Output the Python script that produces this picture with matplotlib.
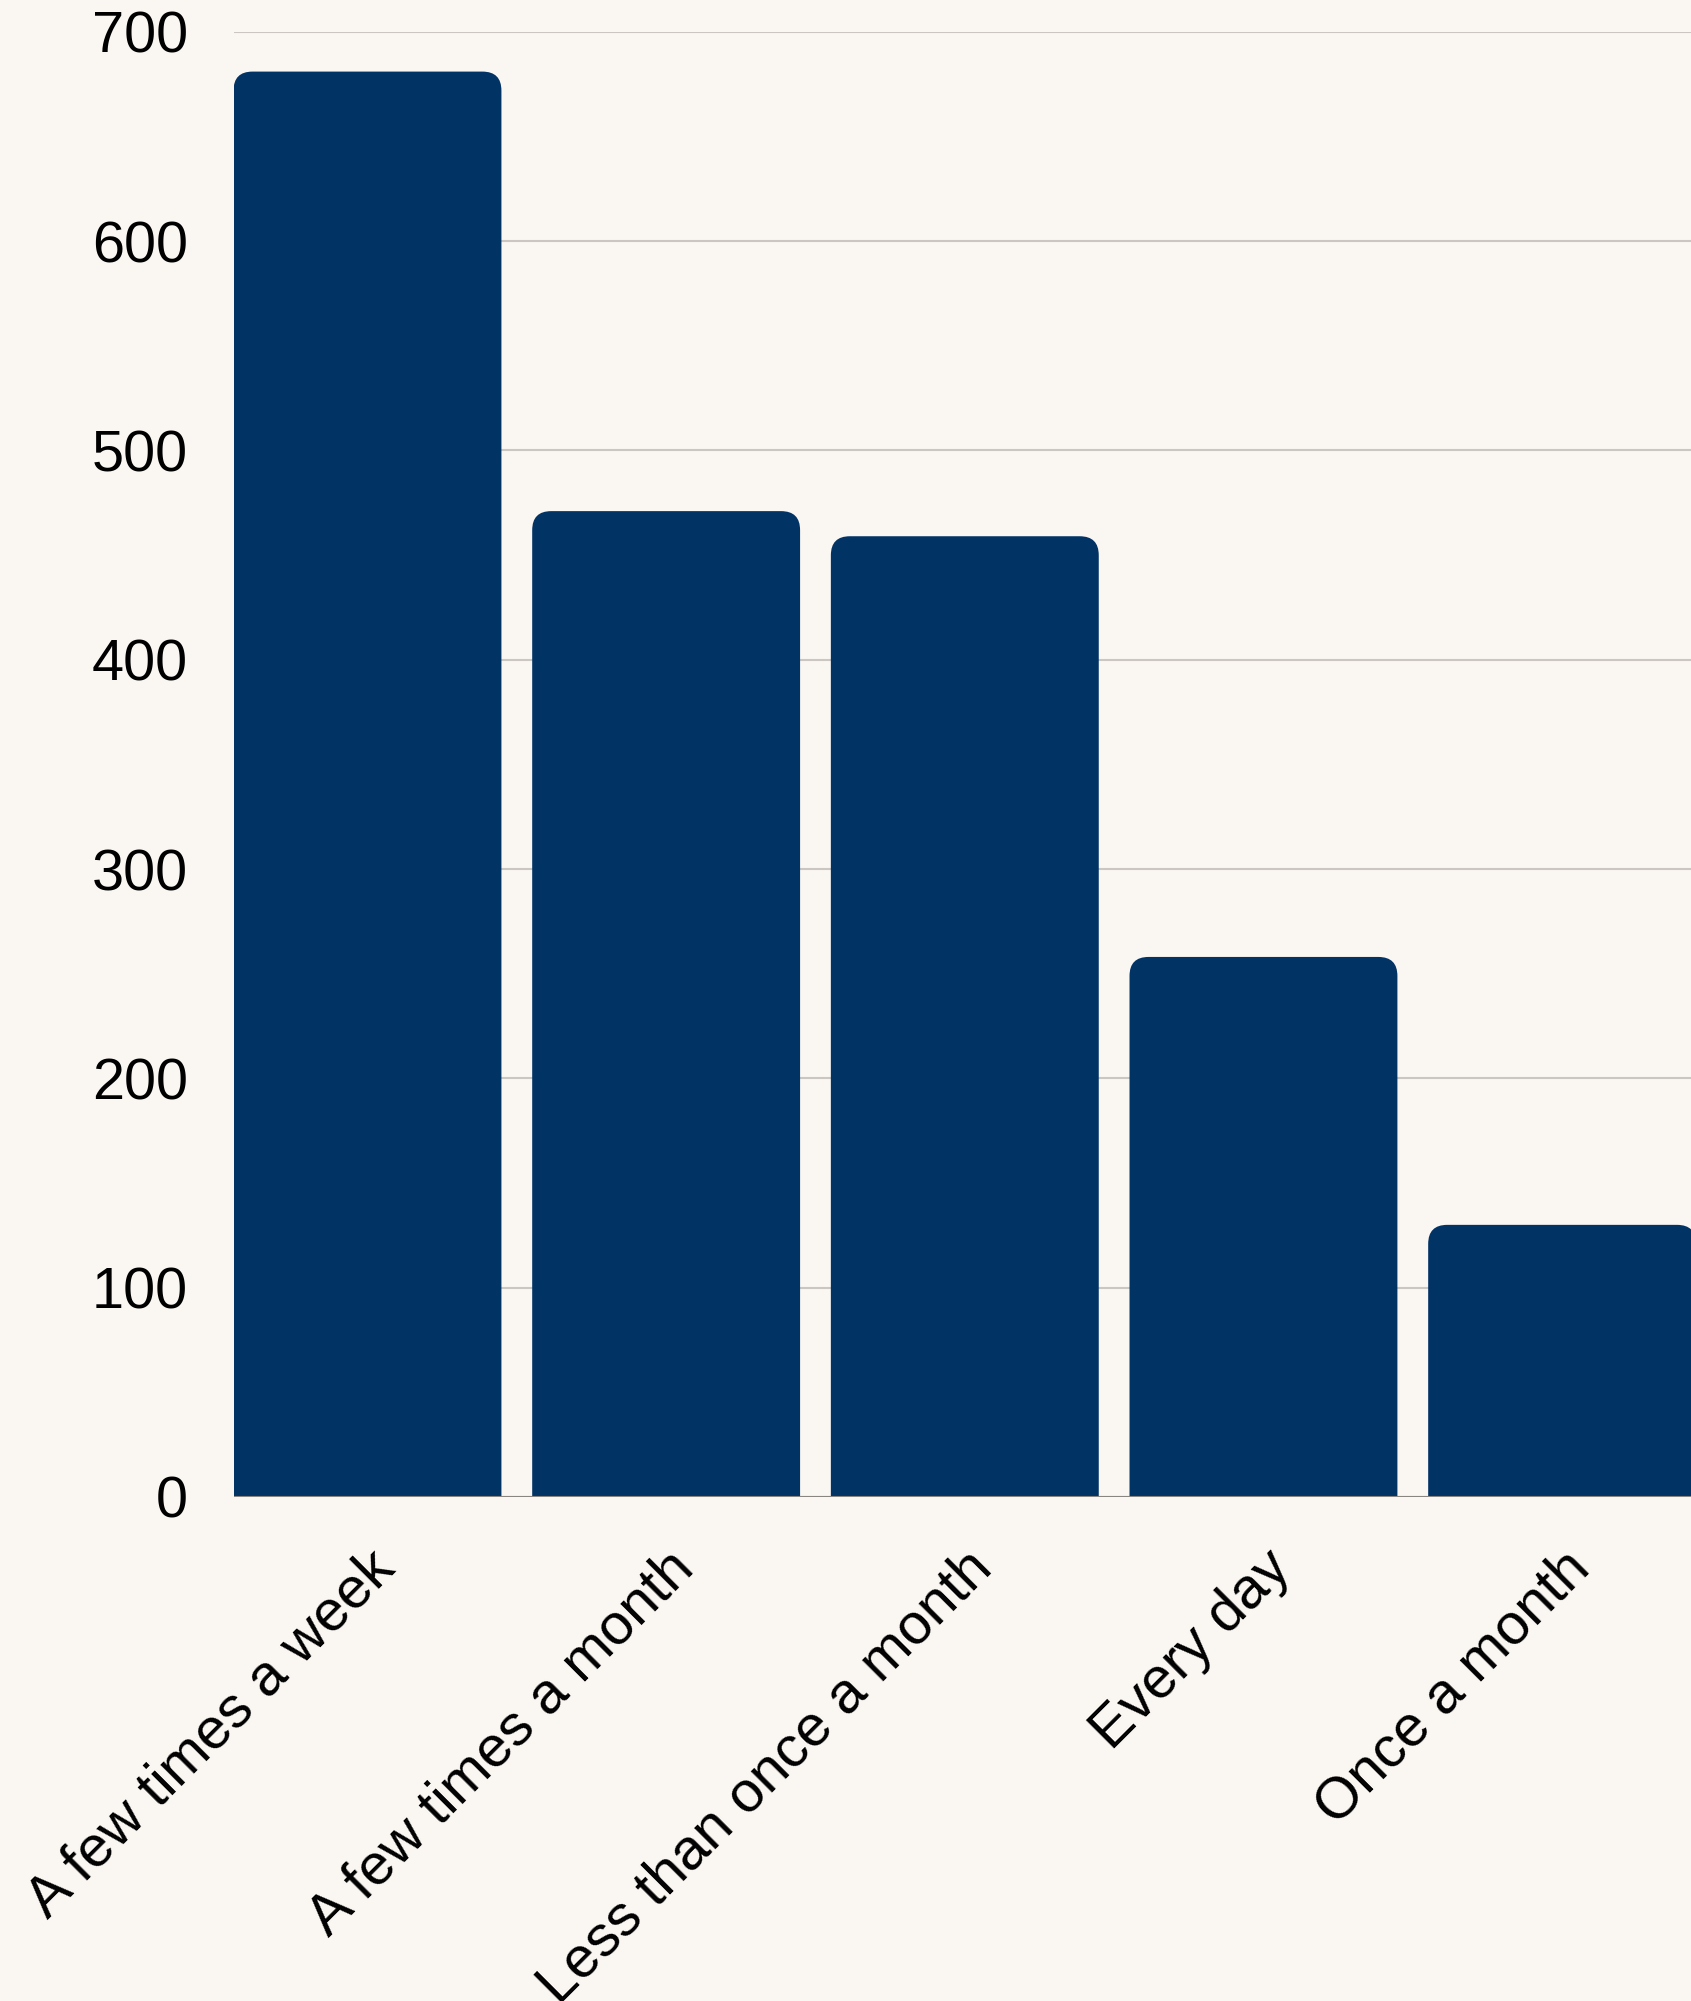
import numpy as np
import matplotlib
matplotlib.use("Agg")
import matplotlib.pyplot as plt
import matplotlib.transforms as mtransforms
from matplotlib.patches import FancyBboxPatch

# survey answers: how often
categories = ["A few times a week", "A few times a month", "Less than once a month",
              "Every day", "Once a month"]
counts = [681, 471, 459, 258, 130]
yticks = [0, 100, 200, 300, 400, 500, 600, 700]

BG = "#faf6f2"
BAR = "#023365"
GRID = "#cbc6c1"

plt.rcParams['font.family'] = ['Liberation Sans', 'DejaVu Sans']

fig = plt.figure(figsize=(16.91, 20.01), dpi=100, facecolor=BG)
ax = fig.add_axes([0.1381, 0.2519, 0.8619, 0.7322])
ax.set_facecolor(BG)

width = 0.897
x = np.arange(len(categories))
ax.set_xlim(-width / 2, -width / 2 + 4.88)
ax.set_ylim(0, 700)

# rounded tops: radius in pixels converted to data units on each axis
fig.canvas.draw()
bb = ax.get_window_extent()
px_x = (ax.get_xlim()[1] - ax.get_xlim()[0]) / bb.width
px_y = (ax.get_ylim()[1] - ax.get_ylim()[0]) / bb.height
r_px = 19
r_x = r_px * px_x
aspect = px_y / px_x

for xi, v in zip(x, counts):
    p = FancyBboxPatch((xi - width / 2, -3 * r_px * px_y), width, v + 3 * r_px * px_y,
                       boxstyle=f"round,pad=0,rounding_size={r_x}",
                       mutation_aspect=aspect, facecolor=BAR, edgecolor="none",
                       zorder=3)
    ax.add_patch(p)

ax.set_yticks(yticks)
ax.yaxis.grid(True, color=GRID, linewidth=1.5, zorder=0)
ax.set_axisbelow(True)
ax.axhline(0, color="#8a8580", linewidth=1.5, zorder=4)

for s in ax.spines.values():
    s.set_visible(False)

ax.tick_params(axis="y", length=0, pad=33, labelsize=41.5, labelcolor="black")
ax.tick_params(axis="x", length=0, pad=20, labelsize=41.5, labelcolor="black")
ax.set_xticks(x)
ax.set_xticklabels(categories, rotation=45, ha="right", va="center",
                   rotation_mode="anchor")

# nudge rotated labels to sit like the original
shift = mtransforms.ScaledTranslation(0.19, -0.35, fig.dpi_scale_trans)
for lbl in ax.get_xticklabels():
    lbl.set_transform(lbl.get_transform() + shift)

fig.savefig("out.png", dpi=100, facecolor=BG)
